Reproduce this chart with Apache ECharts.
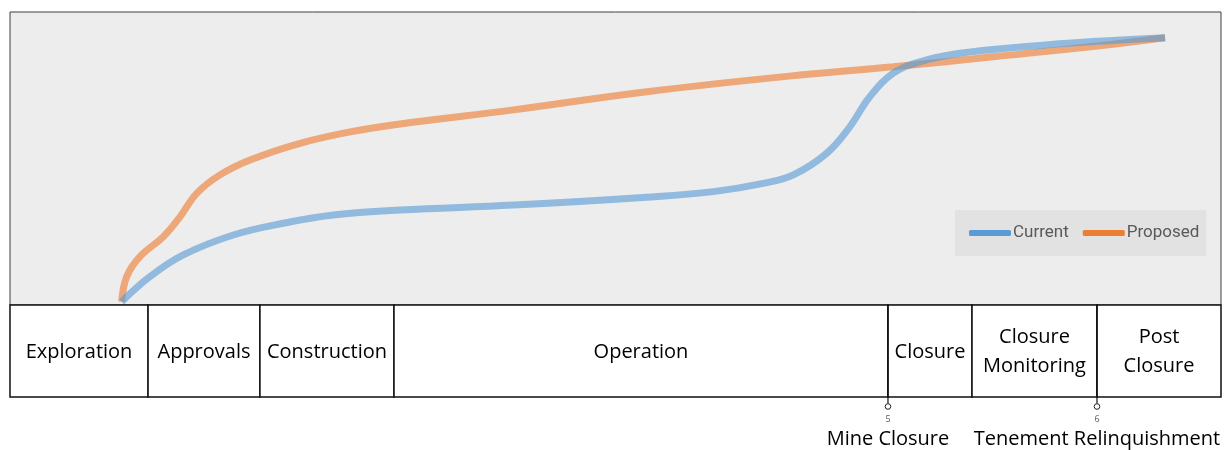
<!DOCTYPE html>
<html>
<head>
<meta charset="utf-8">
<script src="https://cdn.jsdelivr.net/npm/echarts@6/dist/echarts.min.js"></script>
<style>
html,body{margin:0;padding:0;background:#fff;}
#chart{width:1225px;height:450px;}
</style>
</head>
<body>
<div id="chart"></div>
<script>
// ---- data (x: share of project timeline 0-100, y: relative level 0-100) ----
const currentX = [9.22, 11.56, 14.31, 18.44, 22.57, 26.7, 32.2, 41.56, 52.58, 58.08, 62.2, 64.68, 67.44, 69.36, 71.0, 72.94, 75.14, 78.45, 83.96, 89.43, 95.38];
const currentY = [1.1, 9.7, 17.1, 23.9, 27.9, 30.7, 32.4, 34.1, 36.8, 38.7, 41.5, 44.4, 51.8, 60.9, 71.1, 79.1, 83.0, 85.9, 88.2, 89.9, 91.2];
const proposedX = [9.22, 9.64, 10.73, 12.66, 14.04, 15.42, 17.34, 19.82, 23.95, 28.08, 32.2, 41.56, 52.58, 65.24, 72.94, 81.17, 89.43, 95.38];
const proposedY = [1.1, 9.7, 16.5, 23.3, 30.1, 38.1, 44.4, 49.5, 55.2, 59.1, 61.8, 66.6, 72.8, 78.5, 81.3, 84.7, 88.2, 91.2];

const phaseNames = ['Exploration', 'Approvals', 'Construction', 'Operation', 'Closure', 'Closure\nMonitoring', 'Post\nClosure'];
const phaseStarts = [0, 11.4, 20.64, 31.71, 72.5, 79.44, 89.76];
const phaseEnds = [11.4, 20.64, 31.71, 72.5, 79.44, 89.76, 100];

const milestoneX = [72.5, 89.76];
const milestoneNums = ['5', '6'];
const milestoneLabels = ['Mine Closure', 'Tenement Relinquishment'];

const seriesNames = ['Current', 'Proposed'];

// ---- build ----
const zip = (xs, ys) => xs.map((x, i) => [x, ys[i]]);
const TXT_FONT = '"Open Sans", sans-serif';

const chart = echarts.init(document.getElementById('chart'), null, {renderer: 'canvas'});

const option = {
  animation: false,
  backgroundColor: '#ffffff',
  grid: [
    {left: 10, top: 12, width: 1211, height: 293, show: true, backgroundColor: '#ededed', borderColor: '#3f3f3f', borderWidth: 1},
    {left: 10, top: 305, width: 1211, height: 92, show: false}
  ],
  xAxis: [
    {type: 'value', gridIndex: 0, min: 0, max: 100, show: false},
    {type: 'value', gridIndex: 1, min: 0, max: 100, show: false}
  ],
  yAxis: [
    {type: 'value', gridIndex: 0, min: 0, max: 100, show: false},
    {type: 'value', gridIndex: 1, min: 0, max: 1, show: false}
  ],
  legend: {
    data: seriesNames,
    orient: 'horizontal',
    left: 955, top: 210, width: 265,
    backgroundColor: '#e2e2e2',
    padding: [14, 7, 14, 14],
    itemGap: 14,
    itemWidth: 42,
    itemHeight: 6,
    icon: 'roundRect',
    textStyle: {fontFamily: 'Roboto, sans-serif', fontSize: 17, lineHeight: 18, color: '#595959', padding: [0, 0, 0, -3]}
  },
  series: [
    {
      name: seriesNames[0], type: 'line', xAxisIndex: 0, yAxisIndex: 0,
      data: zip(currentX, currentY), smooth: 0.4, symbol: 'none', z: 3,
      itemStyle: {color: '#5b9bd5'},
      lineStyle: {color: '#5b9bd5', width: 7, opacity: 0.62}
    },
    {
      name: seriesNames[1], type: 'line', xAxisIndex: 0, yAxisIndex: 0,
      data: zip(proposedX, proposedY), smooth: 0.4, symbol: 'none', z: 2,
      itemStyle: {color: '#ed7d31'},
      lineStyle: {color: '#ed7d31', width: 7, opacity: 0.62}
    },
    {
      type: 'custom', xAxisIndex: 1, yAxisIndex: 1, silent: true, clip: false, z: 4,
      data: phaseNames.map((n, i) => [phaseStarts[i], phaseEnds[i], n]),
      renderItem: function (params, api) {
        const p0 = api.coord([api.value(0), 1]);
        const p1 = api.coord([api.value(1), 0]);
        const name = phaseNames[params.dataIndex];
        return {
          type: 'group',
          children: [
            {type: 'rect', shape: {x: p0[0], y: p0[1], width: p1[0] - p0[0], height: p1[1] - p0[1]},
             style: {fill: '#ffffff', stroke: '#111111', lineWidth: 1.5}},
            {type: 'text', style: {x: (p0[0] + p1[0]) / 2, y: (p0[1] + p1[1]) / 2 + 1, text: name,
              align: 'center', verticalAlign: 'middle', font: '20px ' + TXT_FONT, lineHeight: 29, fill: '#000000'}}
          ]
        };
      }
    },
    {
      type: 'custom', xAxisIndex: 1, yAxisIndex: 1, silent: true, clip: false, z: 5,
      data: milestoneX.map((x, i) => [x, i]),
      renderItem: function (params, api) {
        const top = api.coord([api.value(0), 1]);
        const bot = api.coord([api.value(0), 0]);
        const x = top[0];
        return {
          type: 'group',
          children: [
            {type: 'line', shape: {x1: x, y1: top[1], x2: x, y2: bot[1] + 6.5}, style: {stroke: '#111111', lineWidth: 1.2}},
            {type: 'circle', shape: {cx: x, cy: bot[1] + 9.5, r: 2.8}, style: {fill: '#ffffff', stroke: '#222222', lineWidth: 1}},
            {type: 'text', style: {x: x, y: bot[1] + 22, text: milestoneNums[params.dataIndex], align: 'center', verticalAlign: 'middle',
              font: '9px ' + TXT_FONT, fill: '#595959'}},
            {type: 'text', style: {x: x, y: bot[1] + 42, text: milestoneLabels[params.dataIndex], align: 'center', verticalAlign: 'middle',
              font: '20px ' + TXT_FONT, fill: '#000000'}}
          ]
        };
      }
    }
  ]
};
chart.setOption(option);
</script>
</body>
</html>
